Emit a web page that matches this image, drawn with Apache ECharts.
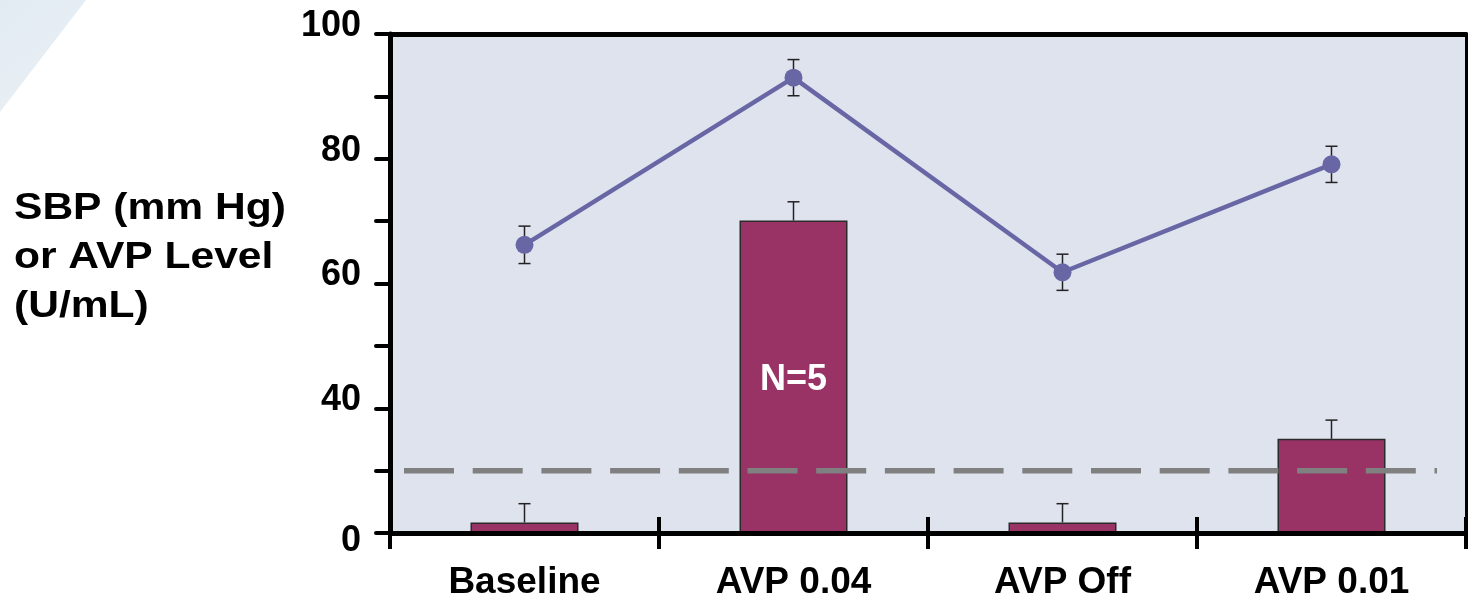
<!DOCTYPE html>
<html>
<head>
<meta charset="utf-8">
<script src="https://cdn.jsdelivr.net/npm/echarts@6/dist/echarts.min.js"></script>
<style>
  html, body { margin: 0; padding: 0; background: #ffffff; }
  #chart { width: 1468px; height: 601px; }
</style>
</head>
<body>
<div id="chart"></div>
<script>
// Treatment phases along the x axis
const categories = ['Baseline', 'AVP 0.04', 'AVP Off', 'AVP 0.01'];
// Systolic blood pressure, mean and error
const sbpMean = [66.2, 93.0, 61.8, 79.1];
const sbpErr = [3.0, 2.9, 2.9, 2.9];
// Plasma AVP level, mean and upper error
const avpLevel = [21.7, 70.1, 21.7, 35.1];
const avpErr = [3.0, 3.0, 3.0, 3.0];
const barNotes = ['', 'N=5', '', ''];
// Reference level drawn as a dashed line
const thresholdLevel = [30];
// Labelled ticks of the value axis (lowest tick reads 0)
const yTickLabels = { 100: '100', 80: '80', 60: '60', 40: '40', 20: '0' };

const FONT = '"Liberation Sans", Arial, Helvetica, sans-serif';
const chart = echarts.init(document.getElementById('chart'), null, { renderer: 'canvas' });

function errorBarItem(params, api) {
  const x = api.value(0);
  const pLo = api.coord([x, api.value(1)]);
  const pHi = api.coord([x, api.value(2)]);
  const both = api.value(3) === 1;
  const half = 6;
  const st = { stroke: '#222222', lineWidth: 1.5 };
  const children = [
    { type: 'line', shape: { x1: pLo[0], y1: pLo[1], x2: pHi[0], y2: pHi[1] }, style: st },
    { type: 'line', shape: { x1: pHi[0] - half, y1: pHi[1], x2: pHi[0] + half, y2: pHi[1] }, style: st }
  ];
  if (both) {
    children.push({ type: 'line', shape: { x1: pLo[0] - half, y1: pLo[1], x2: pLo[0] + half, y2: pLo[1] }, style: st });
  }
  return { type: 'group', children: children };
}

function thresholdItem(params, api) {
  const cs = params.coordSys;
  const y = api.coord([0, api.value(1)])[1];
  return {
    type: 'line',
    shape: { x1: cs.x, y1: y, x2: cs.x + cs.width - 29, y2: y },
    style: { stroke: '#808080', lineWidth: 5.5, lineDash: [50, 18.7], lineDashOffset: 54.7 }
  };
}

const option = {
  animation: false,
  backgroundColor: '#ffffff',
  grid: { left: 390, right: 2, top: 34, bottom: 66, show: true, backgroundColor: '#dfe3ee', borderWidth: 0 },
  graphic: [
    {
      type: 'polygon', z: -10,
      shape: { points: [[0, 0], [86, 0], [0, 112]] },
      style: {
        fill: {
          type: 'linear', x: 0, y: 0, x2: 1, y2: 1,
          colorStops: [{ offset: 0, color: '#e2ebf2' }, { offset: 1, color: '#eaf1f6' }]
        }
      }
    },
    {
      type: 'text', x: 14, y: 184, scaleX: 1.15,
      style: {
        text: 'SBP (mm Hg)\nor AVP Level\n(U/mL)',
        fontSize: 37, fontWeight: 'bold', fontFamily: FONT,
        lineHeight: 49, fill: '#000000', align: 'left', verticalAlign: 'top'
      }
    }
  ],
  xAxis: [
    {
      type: 'category', data: categories, position: 'bottom', z: 5,
      axisLine: { show: true, lineStyle: { color: '#000', width: 5 } },
      axisTick: { show: true, length: 16, lineStyle: { color: '#000', width: 4 } },
      axisLabel: { margin: 31, fontSize: 37, fontWeight: 'bold', fontFamily: FONT, color: '#000' },
      splitLine: { show: false }
    },
    {
      type: 'category', data: categories, position: 'top', z: 5,
      axisLine: { show: true, lineStyle: { color: '#000', width: 5 } },
      axisTick: { show: false }, axisLabel: { show: false }, splitLine: { show: false }
    },
    {
      type: 'category', data: categories, position: 'bottom', z: 5,
      axisLine: { show: false },
      axisTick: { show: true, inside: true, length: 16, lineStyle: { color: '#000', width: 4 } },
      axisLabel: { show: false }, splitLine: { show: false }
    }
  ],
  yAxis: [
    {
      type: 'value', min: 20, max: 100, interval: 10, startValue: 20, z: 5,
      axisLine: { show: true, lineStyle: { color: '#000', width: 5 } },
      axisTick: { show: true, length: 14, lineStyle: { color: '#000', width: 4, cap: 'round' } },
      splitLine: { show: false },
      axisLabel: {
        margin: 29, color: '#000', fontSize: 36, fontWeight: 'bold', fontFamily: FONT,
        formatter: function (v) {
          const t = yTickLabels[v];
          if (t === undefined) return '';
          return v === 20 ? '{low|' + t + '}' : '{up|' + t + '}';
        },
        rich: {
          up: { fontSize: 36, fontWeight: 'bold', fontFamily: FONT, color: '#000', padding: [0, 0, 16, 0] },
          low: { fontSize: 36, fontWeight: 'bold', fontFamily: FONT, color: '#000', padding: [16, 0, 0, 0] }
        }
      }
    },
    {
      type: 'value', min: 20, max: 100, interval: 10, position: 'right', z: 5,
      axisLine: { show: true, lineStyle: { color: '#000', width: 3 } },
      axisTick: { show: false }, axisLabel: { show: false }, splitLine: { show: false }
    }
  ],
  series: [
    {
      name: 'AVP Level', type: 'bar', z: 2, barWidth: 108,
      data: avpLevel.map(function (v, i) {
        const item = { value: v };
        if (barNotes[i]) {
          item.label = {
            show: true, position: 'inside', offset: [0, 3], formatter: barNotes[i],
            color: '#ffffff', fontSize: 36, fontWeight: 'bold', fontFamily: FONT
          };
        }
        return item;
      }),
      itemStyle: { color: '#993366', borderColor: '#2b2b2b', borderWidth: 1.5 }
    },
    {
      name: 'AVP error', type: 'custom', z: 3,
      renderItem: errorBarItem,
      encode: { x: 0, y: [1, 2] },
      data: avpLevel.map(function (v, i) { return [i, v, v + avpErr[i], 0]; })
    },
    {
      name: 'Threshold', type: 'custom', z: 3,
      renderItem: thresholdItem,
      encode: { x: 0, y: 1 },
      data: thresholdLevel.map(function (v) { return [0, v]; })
    },
    {
      name: 'SBP error', type: 'custom', z: 3,
      renderItem: errorBarItem,
      encode: { x: 0, y: [1, 2] },
      data: sbpMean.map(function (v, i) { return [i, v - sbpErr[i], v + sbpErr[i], 1]; })
    },
    {
      name: 'SBP', type: 'line', z: 4,
      data: sbpMean,
      symbol: 'circle', symbolSize: 18,
      lineStyle: { color: '#6966a5', width: 4.5 },
      itemStyle: { color: '#6966a5' }
    }
  ]
};

chart.setOption(option);
</script>
</body>
</html>
